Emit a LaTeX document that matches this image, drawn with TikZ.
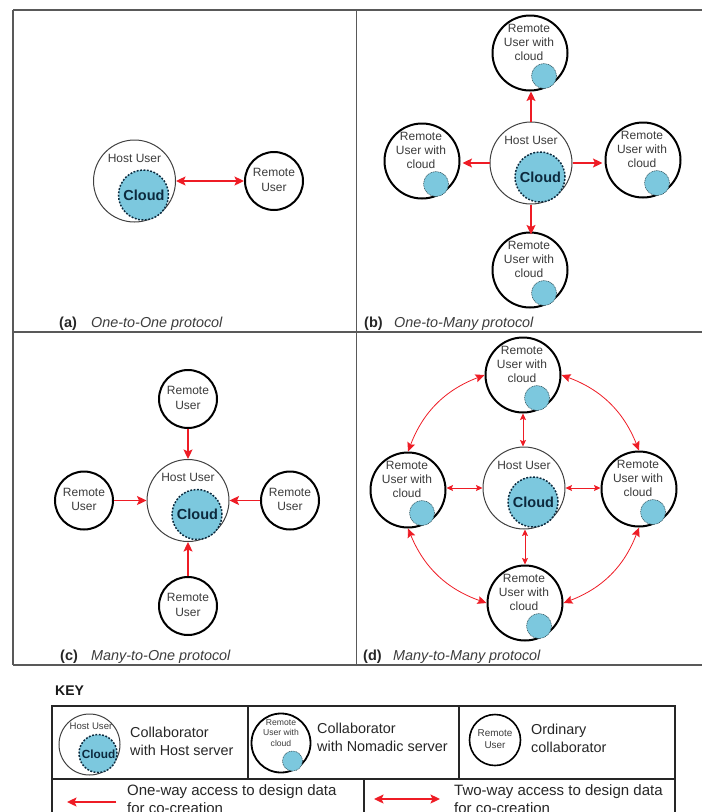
\documentclass[tikz,border=0pt]{standalone}
\usepackage{fontspec}
\setmainfont{Liberation Sans}
\usetikzlibrary{arrows.meta}
\definecolor{cloudblue}{HTML}{7CC8DE}
\definecolor{linkred}{HTML}{EE1C25}
\definecolor{labelgray}{HTML}{3C3C3C}
\definecolor{clouddark}{HTML}{0C2A3E}
\newcommand{\fs}[2]{\fontsize{#1}{#2}\selectfont}
\tikzset{
  framerule/.style={draw=black!65,line width=1.1pt},
  keyrule/.style={draw=black!85,line width=2pt},
  hostcircle/.style={circle,draw=black!75,line width=1pt,fill=white,inner sep=0pt,minimum size=#1},
  remotecircle/.style={circle,draw=black,line width=2pt,fill=white,inner sep=0pt,minimum size=#1},
  bigcloud/.style={circle,draw=clouddark,fill=cloudblue,line width=1.5pt,dash pattern=on 1.8pt off 1.6pt,inner sep=0pt,minimum size=#1},
  smallcloud/.style={circle,draw=black!60!cloudblue,fill=cloudblue,line width=.6pt,dash pattern=on 1pt off .8pt,inner sep=0pt,minimum size=#1},
  usertext/.style={text=labelgray,align=center,font=\fs{12}{14.3},inner sep=0pt},
  cloudtext/.style={text=clouddark,font=\bfseries\fs{14.5}{16},inner sep=0pt},
  captionhead/.style={anchor=base west,font=\bfseries\fs{14.5}{16},text=black!85,inner sep=0pt},
  captiontext/.style={anchor=base west,font=\itshape\fs{14.4}{16},text=labelgray,inner sep=0pt},
  keytext/.style={anchor=west,align=left,font=\fs{14.4}{18},text=black!85,inner sep=0pt},
  keywide/.style={keytext,font=\fs{15}{18}},
  oneway/.style={-{Stealth[length=9.5pt,width=9pt,inset=2pt]},draw=linkred,fill=linkred,line width=1.6pt},
  twoway/.style={{Stealth[length=9.5pt,width=9pt,inset=2pt]}-{Stealth[length=9.5pt,width=9pt,inset=2pt]},draw=linkred,line width=1.6pt},
  thinway/.style={{Stealth[length=6.5pt,width=6pt,inset=1.2pt]}-{Stealth[length=6.5pt,width=6pt,inset=1.2pt]},draw=linkred,line width=.8pt},
  curveway/.style={{Stealth[length=9pt,width=8pt,inset=1.5pt]}-{Stealth[length=9pt,width=8pt,inset=1.5pt]},draw=linkred,line width=.8pt},
}
% name, x, y
\newcommand{\hostuser}[3]{%
  \node[hostcircle=82pt] (#1) at (#2,#3) {};
  \node[bigcloud=50pt] (#1c) at (#2+9,#3+14) {};
  \node[usertext] (#1t) at (#2,#3-23) {Host User};
  \node[cloudtext] (#1l) at (#2+9.5,#3+14) {Cloud};
}
\newcommand{\remoteuser}[3]{%
  \node[remotecircle=58pt] (#1) at (#2,#3) {};
  \node[usertext] (#1t) at (#2,#3-1) {Remote\\User};
}
\newcommand{\cloudyuser}[3]{%
  \node[remotecircle=75pt] (#1) at (#2,#3) {};
  \node[smallcloud=25pt] (#1c) at (#2+14,#3+23) {};
  \node[usertext] (#1t) at (#2-1,#3-10.5) {Remote\\User with\\cloud};
}
\begin{document}
\begin{tikzpicture}[x=1pt,y=-1pt]
\useasboundingbox (0,0) rectangle (702,812);
\clip (0,0) rectangle (702,812);
% panel frame
\draw[framerule] (13,10) -- (702,10);
\draw[framerule] (13,332) -- (702,332);
\draw[framerule] (13,665) -- (702,665);
\draw[framerule] (13,10) -- (13,665);
\draw[framerule] (356.5,10) -- (356.5,665);
% (a)
\hostuser{ha}{134.5}{181}
\remoteuser{ra}{274}{181}
\draw[twoway] (ha.east) -- (ra.west);
\node[captionhead] (capah) at (59,327.5) {(a)};
\node[captiontext] (capat) at (91,327.5) {One-to-One protocol};
% (b)
\hostuser{hb}{531}{163}
\cloudyuser{bt}{530}{53}
\cloudyuser{bl}{422}{161}
\cloudyuser{br}{643}{160}
\cloudyuser{bb}{530}{270}
\draw[oneway] (hb.north) -- (hb.north |- bt.south);
\draw[oneway] (hb.west) -- ([xshift=2pt]hb.west -| bl.east);
\draw[oneway] (hb.east) -- ([xshift=-2pt]hb.east -| br.west);
\draw[oneway] (hb.south) -- ([yshift=-3pt]hb.south |- bb.north);
\node[captionhead] (capbh) at (364,327.5) {(b)};
\node[captiontext] (capbt) at (394,327.5) {One-to-Many protocol};
% (c)
\hostuser{hc}{188}{500.5}
\remoteuser{ct}{188}{399}
\remoteuser{cl}{84}{500.5}
\remoteuser{cr}{290}{500.5}
\remoteuser{cb}{188}{606}
\draw[oneway] (ct.south) -- (hc.north);
\draw[oneway] (cl.east) -- (hc.west);
\draw[oneway] (cr.west) -- (hc.east);
\draw[oneway] (cb.north) -- (hc.south);
\node[captionhead] (capch) at (60,660) {(c)};
\node[captiontext] (capct) at (91,660) {Many-to-One protocol};
% (d)
\hostuser{hd}{524}{488}
\cloudyuser{dt}{523}{375}
\cloudyuser{dl}{408}{490}
\cloudyuser{dr}{639}{489}
\cloudyuser{db}{525}{603}
\draw[thinway] (dt.south) -- (dt.south |- hd.north);
\draw[thinway] (hd.west -| dl.east) -- (hd.west);
\draw[thinway] (hd.east) -- (hd.east -| dr.west);
\draw[thinway] (hd.south -| db.north) -- (db.north);
\draw[curveway] (dt.west) to[bend right=24] (dl.north);
\draw[curveway] (dt.east) to[bend left=24] (dr.north);
\draw[curveway] (dl.south) to[bend right=24] (db.west);
\draw[curveway] (db.east) to[bend right=24] (dr.south);
\node[captionhead] (capdh) at (363,660) {(d)};
\node[captiontext] (capdt) at (393,660) {Many-to-Many protocol};
% key
\node[anchor=base west,font=\bfseries\fs{14}{16},text=black!90,inner sep=0pt] (keyhead) at (55,695) {KEY};
\draw[keyrule] (52,830) -- (52,706) -- (675,706) -- (675,830);
\draw[keyrule] (52,779) -- (675,779);
\draw[keyrule] (248,706) -- (248,779);
\draw[keyrule] (459,706) -- (459,779);
\draw[keyrule] (364,779) -- (364,830);
% key symbols
\node[hostcircle=61pt] (kh) at (89.5,744.5) {};
\node[bigcloud=38pt] (khc) at (98,753.5) {};
\node[usertext,font=\fs{9.6}{11}] (kht) at (91,726) {Host User};
\node[cloudtext,font=\bfseries\fs{11.8}{13}] (khl) at (98.5,754) {Cloud};
\node[keytext] (kht1) at (130,741) {Collaborator\\with Host server};
\node[remotecircle=59pt,line width=1.8pt] (kn) at (281,743) {};
\node[smallcloud=20pt] (knc) at (292.5,761) {};
\node[usertext,font=\fs{8.6}{10.8}] (knt) at (281,733) {Remote\\User with\\cloud};
\node[keytext] (knt1) at (317,737) {Collaborator\\with Nomadic server};
\node[remotecircle=51pt,line width=1.6pt] (ko) at (495,740) {};
\node[usertext,font=\fs{9.9}{12}] (kot) at (495,739.5) {Remote\\User};
\node[keytext] (kot1) at (531,738) {Ordinary\\collaborator};
\coordinate (ow1) at (116,802);
\coordinate (ow2) at (67,802);
\draw[oneway] (ow1) -- (ow2);
\node[keywide] (owt) at (127,799) {One-way access to design data\\for co-creation};
\coordinate (tw1) at (374,799);
\coordinate (tw2) at (440,799);
\draw[twoway] (tw1) -- (tw2);
\node[keywide] (twt) at (454,799) {Two-way access to design data\\for co-creation};
\end{tikzpicture}
\end{document}
